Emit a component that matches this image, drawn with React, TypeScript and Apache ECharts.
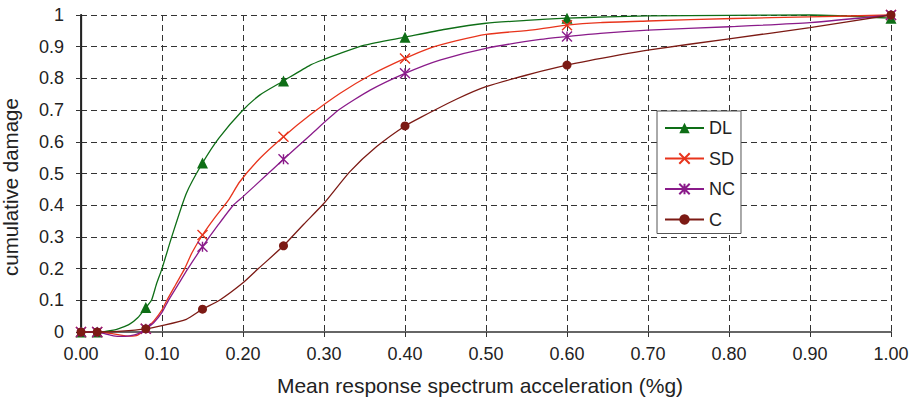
import React, { useEffect, useRef } from "react";
import * as echarts from "echarts";

const seriesNames = ["DL", "SD", "NC", "C"];
const markerX = [0, 0.02, 0.08, 0.15, 0.25, 0.4, 0.6, 1.0];

const dlX = [0, 0.02, 0.04, 0.05, 0.06, 0.07, 0.08, 0.087, 0.093, 0.1, 0.112, 0.13, 0.15, 0.17, 0.198, 0.221, 0.25, 0.283, 0.3, 0.32, 0.35, 0.4, 0.45, 0.5, 0.55, 0.6, 0.65, 0.7, 0.8, 0.9, 1.0];
const dlY = [0, 0, 0.006, 0.014, 0.025, 0.045, 0.077, 0.1, 0.15, 0.2, 0.3, 0.437, 0.533, 0.611, 0.695, 0.748, 0.792, 0.842, 0.86, 0.879, 0.905, 0.93, 0.955, 0.974, 0.983, 0.99, 0.994, 0.997, 0.999, 1.0, 0.99];

const sdX = [0, 0.02, 0.04, 0.06, 0.07, 0.08, 0.09, 0.1, 0.106, 0.117, 0.128, 0.137, 0.15, 0.165, 0.182, 0.196, 0.221, 0.25, 0.283, 0.32, 0.357, 0.4, 0.43, 0.464, 0.5, 0.558, 0.6, 0.641, 0.7, 0.805, 0.9, 1.0];
const sdY = [0, 0, -0.006, -0.013, -0.01, 0.01, 0.035, 0.07, 0.1, 0.15, 0.2, 0.25, 0.306, 0.36, 0.416, 0.474, 0.548, 0.616, 0.685, 0.753, 0.81, 0.863, 0.895, 0.919, 0.939, 0.953, 0.968, 0.976, 0.981, 0.989, 0.994, 1.0];

const ncX = [0, 0.02, 0.03, 0.04, 0.05, 0.06, 0.07, 0.08, 0.09, 0.1, 0.108, 0.12, 0.132, 0.15, 0.17, 0.188, 0.2, 0.229, 0.25, 0.283, 0.318, 0.357, 0.4, 0.443, 0.5, 0.567, 0.6, 0.641, 0.7, 0.8, 0.9, 1.0];
const ncY = [0, 0, -0.006, -0.012, -0.014, -0.012, -0.006, 0.01, 0.03, 0.062, 0.1, 0.15, 0.2, 0.269, 0.34, 0.4, 0.427, 0.495, 0.545, 0.621, 0.7, 0.763, 0.816, 0.858, 0.895, 0.923, 0.932, 0.942, 0.952, 0.963, 0.976, 1.0];

const cX = [0, 0.02, 0.05, 0.08, 0.1, 0.13, 0.15, 0.171, 0.2, 0.219, 0.25, 0.275, 0.3, 0.332, 0.365, 0.4, 0.42, 0.464, 0.5, 0.558, 0.6, 0.665, 0.702, 0.8, 0.9, 1.0];
const cY = [0, 0, 0.003, 0.01, 0.02, 0.04, 0.072, 0.1, 0.155, 0.2, 0.272, 0.34, 0.406, 0.506, 0.585, 0.65, 0.678, 0.735, 0.774, 0.816, 0.842, 0.874, 0.89, 0.925, 0.96, 1.0];

const FONT = "'Liberation Sans', Arial, Helvetica, sans-serif";

function buildData(xs: number[], ys: number[]) {
  return xs.map((x, i) => {
    const isMarker = markerX.some((m) => Math.abs(m - x) < 1e-9);
    return isMarker ? { value: [x, ys[i]] } : { value: [x, ys[i]], symbol: "none" };
  });
}

export default function App() {
  const ref = useRef<HTMLDivElement>(null);
  useEffect(() => {
    if (!ref.current) return;
    const chart = echarts.init(ref.current, null, { renderer: "svg" });
    const colors = ["#0e6e16", "#e8341c", "#8a1b8a", "#7c1a14"];
    const symbols = [
      "triangle",
      "path://M0,0L10,10M10,0L0,10",
      "path://M0,0L10,10M10,0L0,10M5,0L5,10",
      "circle",
    ];
    const sizes = [11, 10, 10, 9];
    const xsAll = [dlX, sdX, ncX, cX];
    const ysAll = [dlY, sdY, ncY, cY];
    const series = seriesNames.map((name, i) => ({
      name,
      type: "line",
      data: buildData(xsAll[i], ysAll[i]),
      symbol: symbols[i],
      symbolSize: sizes[i],
      showSymbol: true,
      smooth: 0.2,
      clip: false,
      lineStyle: { color: colors[i], width: 1.3 },
      itemStyle: {
        color: colors[i],
        borderColor: colors[i],
        borderWidth: i === 1 || i === 2 ? 1.4 : 0,
      },
      z: 3 + i,
    }));
    chart.setOption({
      animation: false,
      backgroundColor: "#fff",
      textStyle: { fontFamily: FONT },
      grid: { left: 81, right: 24, top: 15, bottom: 69 },
      legend: {
        data: seriesNames,
        orient: "vertical",
        left: 657,
        top: 111,
        itemWidth: 39,
        itemHeight: 13,
        itemGap: 12.5,
        padding: [8, 6, 5, 7],
        borderColor: "#555",
        borderWidth: 1,
        backgroundColor: "#fff",
        textStyle: { fontSize: 18, color: "#222", lineHeight: 18, fontFamily: FONT },
      },
      xAxis: [
        {
          type: "value",
          min: 0,
          max: 1,
          interval: 0.1,
          name: "Mean response spectrum acceleration (%g)",
          nameLocation: "middle",
          nameGap: 43,
          nameTextStyle: { fontSize: 21, color: "#222", fontFamily: FONT, padding: [0, 12, 0, 0] },
          axisLine: { show: true, onZero: false, lineStyle: { color: "#444", width: 2 } },
          axisTick: { show: true, length: 5, lineStyle: { color: "#333" } },
          axisLabel: {
            fontSize: 18,
            color: "#222",
            margin: 13,
            formatter: (v: number) => v.toFixed(2),
          },
          splitLine: { show: true, lineStyle: { color: "#333", type: [6, 4], width: 1 } },
        },
        {
          type: "value",
          min: 0,
          max: 1,
          position: "top",
          axisLine: { show: true, lineStyle: { color: "#666", width: 2 } },
          axisTick: { show: false },
          axisLabel: { show: false },
          splitLine: { show: false },
        },
      ],
      yAxis: [
        {
          type: "value",
          min: 0,
          max: 1,
          interval: 0.1,
          axisLine: { show: true, onZero: false, lineStyle: { color: "#333", width: 2 } },
          axisTick: { show: true, length: 5, lineStyle: { color: "#333" } },
          axisLabel: {
            fontSize: 18,
            color: "#222",
            margin: 17,
            formatter: (v: number) => (v === 0 ? "0" : v >= 0.999 ? "1" : v.toFixed(1)),
          },
          splitLine: { show: true, lineStyle: { color: "#333", type: [6, 4], width: 1 } },
        },
        {
          type: "value",
          min: 0,
          max: 1,
          position: "right",
          axisLine: { show: true, lineStyle: { color: "#222", width: 1.3 } },
          axisTick: { show: false },
          axisLabel: { show: false },
          splitLine: { show: false },
        },
      ],
      graphic: [
        {
          type: "text",
          x: 10,
          y: 187,
          rotation: Math.PI / 2,
          style: {
            text: "cumulative damage",
            fontSize: 20.5,
            fontFamily: FONT,
            fill: "#222",
            align: "center",
            verticalAlign: "middle",
          },
        },
      ],
      series,
    });
    return () => chart.dispose();
  }, []);
  return (
    <div
      ref={ref}
      style={{ position: "fixed", left: 0, top: 0, width: 915, height: 401, background: "#fff" }}
    />
  );
}
